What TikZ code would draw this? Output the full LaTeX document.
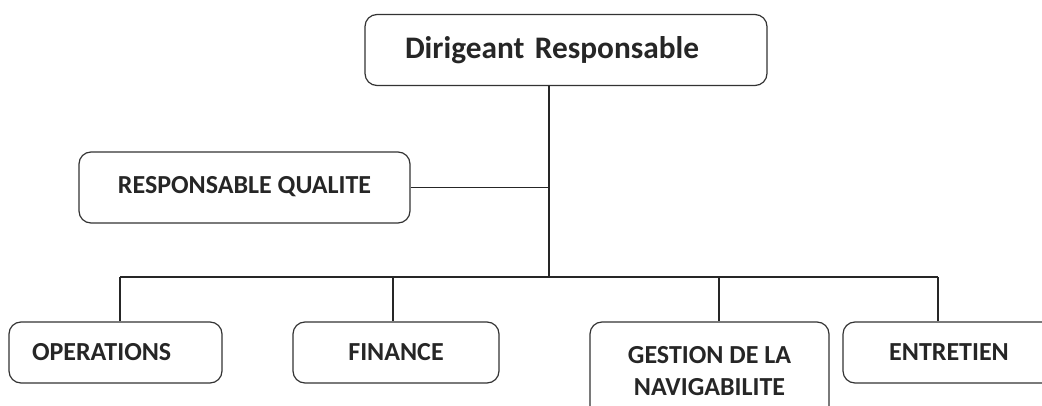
\documentclass[tikz,border=0pt]{standalone}
\usepackage{fontspec}
\setmainfont{Carlito}
\usepackage{tikz}
\usetikzlibrary{positioning}
\tikzstyle{unit} = [rectangle, rounded corners=9pt, draw=black!80, line width=0.9pt, fill=white, font=\fontsize{19.5}{24}\selectfont\bfseries, text=black!85, align=center, inner sep=0pt]
\tikzstyle{head} = [unit, font=\fontsize{23.5}{28}\selectfont\bfseries]
\tikzstyle{link} = [draw=black!85, line width=0.8pt]

\begin{document}
\begin{tikzpicture}[x=0.75pt, y=-0.75pt]
      \useasboundingbox (0,0) rectangle (1042,406);
      % boxes
      \node (dir) [head, minimum width=402*0.75pt, minimum height=71*0.75pt, text width=322*0.75pt, align=left] at (566,50) {Dirigeant Responsable};
      \node (rq) [unit, minimum width=331*0.75pt, minimum height=71*0.75pt] at (244.5,187.5) {\raisebox{4pt}{RESPONSABLE QUALITE}};
      \node (ops) [unit, minimum width=213*0.75pt, minimum height=61*0.75pt, text width=167*0.75pt, align=left] at (115.5,352.5) {OPERATIONS};
      \node (fin) [unit, minimum width=206*0.75pt, minimum height=61*0.75pt] at (396,352.5) {FINANCE};
      \node (nav) [unit, minimum width=239*0.75pt, minimum height=98*0.75pt] at (709.5,371) {GESTION DE LA\\NAVIGABILITE};
      \node (ent) [unit, minimum width=212*0.75pt, minimum height=61*0.75pt] at (949,352.5) {ENTRETIEN};
      % bus points
      \coordinate (bus) at (549,277);
      \coordinate (b1) at (120,277);
      \coordinate (b2) at (393,277);
      \coordinate (b3) at (719,277);
      \coordinate (b4) at (938,277);
      % lines
      \draw [link] (dir.south -| bus) -- (bus);
      \draw [link] (rq.east) -- (rq.east -| bus);
      \draw [link] (b1) -- (b4);
      \draw [link] (b1) -- (b1 |- ops.north);
      \draw [link] (b2) -- (b2 |- fin.north);
      \draw [link] (b3) -- (b3 |- nav.north);
      \draw [link] (b4) -- (b4 |- ent.north);
    \end{tikzpicture}
\end{document}
